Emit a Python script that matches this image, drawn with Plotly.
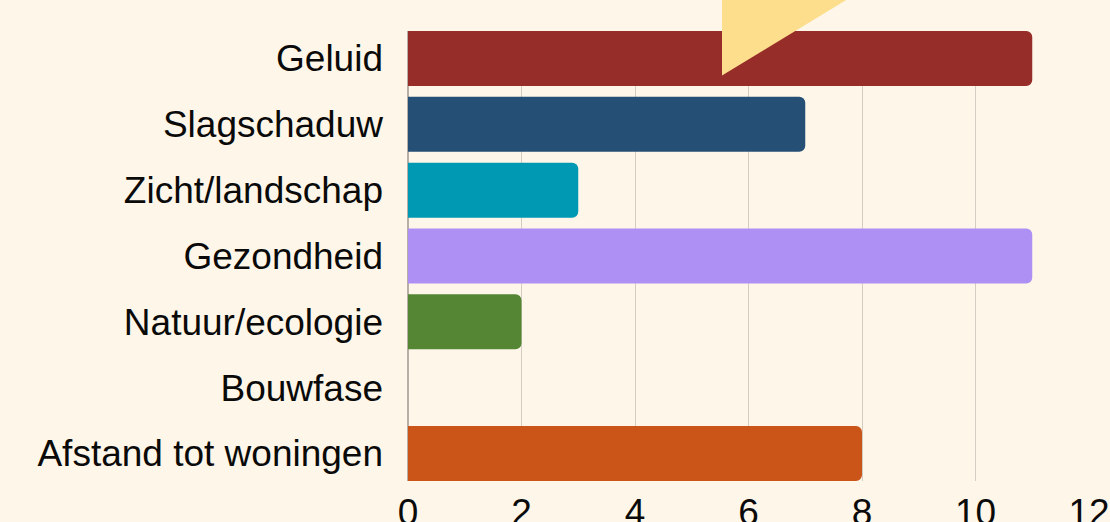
import plotly.graph_objects as go

categories = ["Geluid", "Slagschaduw", "Zicht/landschap", "Gezondheid",
              "Natuur/ecologie", "Bouwfase", "Afstand tot woningen"]
values = [11, 7, 3, 11, 2, 0, 8]
colors = ["#962D29", "#254F75", "#0099B4", "#AE8FF4", "#548633", "#9E9E9E", "#CB5419"]
x_ticks = [0, 2, 4, 6, 8, 10, 12]

W, H = 1110, 522
ml, mr, mt, mb = 408, 21, 31, 41
BG = "#FEF6E8"

fig = go.Figure(go.Bar(
    x=values, y=categories, orientation="h",
    marker=dict(color=colors, line=dict(width=0), cornerradius=6),
    width=0.836, hoverinfo="skip",
))

# decorative triangle (pixel coordinates converted to paper)
pw, ph = W - ml - mr, H - mt - mb
def px(x):
    return (x - ml) / pw
def py(y):
    return 1 - (y - mt) / ph
tri = f"M {px(722)} {py(75.5)} L {px(722)} {py(-40)} L {px(912)} {py(-40)} Z"
fig.add_shape(type="path", path=tri, xref="paper", yref="paper",
              fillcolor="#FDDE8C", line=dict(width=0), layer="above")

fig.update_layout(
    width=W, height=H,
    margin=dict(l=ml, r=mr, t=mt, b=mb, autoexpand=False),
    paper_bgcolor=BG, plot_bgcolor=BG,
    font=dict(family="Liberation Sans, Arial, sans-serif", size=37, color="#0A0A0A"),
    showlegend=False,
    bargap=0.164,
    xaxis=dict(range=[0, 12], tickvals=x_ticks, showgrid=True, gridcolor="#D3CCC2",
               gridwidth=1, zeroline=True, zerolinecolor="#B8B0A6", zerolinewidth=2,
               showline=False, ticks="", ticklabelstandoff=6, tickfont=dict(size=37),
               automargin=False),
    yaxis=dict(categoryorder="array", categoryarray=categories, autorange=False,
               range=[6.418, -0.418], showgrid=False, zeroline=False, showline=False,
               ticks="", ticklabelstandoff=24, tickfont=dict(size=37),
               automargin=False),
)

fig.write_html(
    "out.html",
    config={"displayModeBar": False},
    post_script=f"document.body.style.margin='0';document.body.style.background='{BG}';"
                "document.body.style.overflow='hidden';",
)
